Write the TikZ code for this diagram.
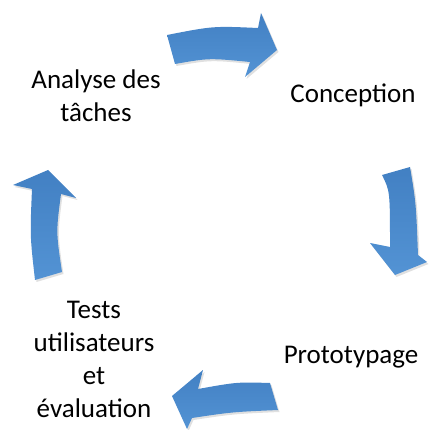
\documentclass[tikz,border=0pt]{standalone}
\usepackage{fontspec}
\setmainfont{Carlito}
\definecolor{arrowlight}{HTML}{5393D4}
\definecolor{arrowdark}{HTML}{4280C3}
\begin{document}
\begin{tikzpicture}[x=1pt,y=-1pt,
  lbl/.style={font=\fontsize{27}{33}\selectfont, inner sep=0pt, align=center},
  barrow/.style={top color=arrowdark, bottom color=arrowlight, draw=none},
  bshadow/.style={fill=black, opacity=0.12, draw=none}]
\useasboundingbox (0,0) rectangle (428,430);
\def\arrowtop{(167,35) .. controls (213,26) .. (258,28) -- (261,13) -- (277,50) -- (245,77) -- (250,62) .. controls (209,58) .. (175,64) -- cycle}
\def\arrowright{(382,175) -- (410,167) .. controls (416,203) .. (418,255) -- (427,262) -- (395,275) -- (370,243) -- (390,247) .. controls (390,191) .. (382,175) -- cycle}
\def\arrowbottom{(270,383) .. controls (237,382) .. (198,389) -- (203,370) -- (172,396) -- (187,429) -- (192,418) .. controls (232,412) .. (278,410) -- cycle}
\def\arrowleft{(35,280) .. controls (30,236) .. (32,189) -- (13,185) -- (48,170) -- (76,198) -- (61,194) .. controls (56,232) .. (62,272) -- cycle}
\begin{scope}[shift={(1.5,2)}]
  \fill[bshadow] \arrowtop;
  \fill[bshadow] \arrowright;
  \fill[bshadow] \arrowbottom;
  \fill[bshadow] \arrowleft;
\end{scope}
\shade[barrow] \arrowtop;
\shade[barrow] \arrowright;
\shade[barrow] \arrowbottom;
\shade[barrow] \arrowleft;
\node[lbl, anchor=base] (a) at (96,122) {Analyse des\\tâches};
\node[lbl, anchor=base] (c) at (353,103) {Conception};
\node[lbl, anchor=base] (p) at (351,363) {Prototypage};
\node[lbl, anchor=base] (t) at (94,417) {Tests\\utilisateurs\\et\\évaluation};
\end{tikzpicture}
\end{document}
